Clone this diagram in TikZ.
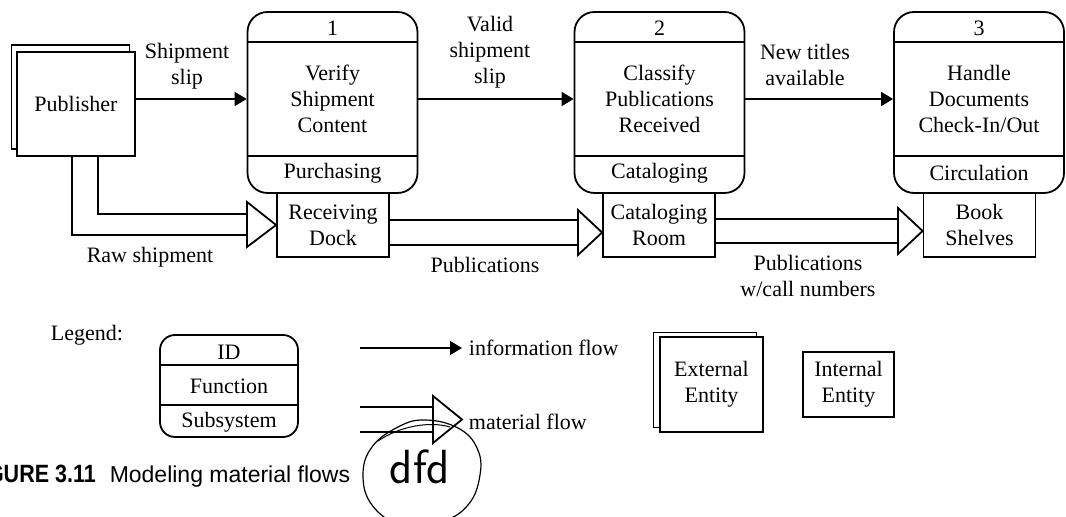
\documentclass[tikz,border=0pt]{standalone}
\usepackage{fontspec}
\setmainfont{Liberation Serif}
\newfontfamily\capfont[FakeStretch=0.86]{Liberation Sans}
\newfontfamily\capsans{Liberation Sans}
\usepackage{tikz}
\usetikzlibrary{arrows.meta}

\begin{document}
\begin{tikzpicture}[x = 0.5pt, y = -0.5pt, line width = 0.9pt,
  font = \fontsize{11}{13}\selectfont,
  proc/.style = {draw, rounded corners = 10pt, minimum width = 85pt, minimum height = 90.5pt, inner sep = 0},
  ient/.style = {draw, fill = white, minimum width = 56pt, minimum height = 32pt, align = center, inner sep = 0},
  eent/.style = {draw, fill = white, minimum width = 59pt, minimum height = 52pt, align = center, inner sep = 0},
  txt/.style = {align = center, inner sep = 2pt},
  info/.style = {-{Triangle[length = 6pt, width = 7pt]}},
  mtri/.style = {draw, fill = white, line join = miter}]
 \useasboundingbox (0, 0) rectangle (1066, 517);
 % processes
 \node[proc] (p1) at (332.5, 102.5) {};
 \node[proc] (p2) at (659.5, 102.5) {};
 \node[proc] (p3) at (979, 102.5) {};
 \foreach \p in {p1, p2, p3} {
   \draw (\p.west |- 0, 42) -- (\p.east |- 0, 42);
   \draw (\p.west |- 0, 156) -- (\p.east |- 0, 156);
 }
 \node[txt] (p1id) at (p1 |- 0, 28) {1};
 \node[txt] (p1fn) at (p1 |- 0, 99) {Verify\\Shipment\\Content};
 \node[txt] (p1ss) at (p1 |- 0, 173) {Purchasing};
 \node[txt] (p2id) at (p2 |- 0, 28) {2};
 \node[txt] (p2fn) at (p2 |- 0, 99) {Classify\\Publications\\Received};
 \node[txt] (p2ss) at (p2 |- 0, 173) {Cataloging};
 \node[txt] (p3id) at (p3 |- 0, 28) {3};
 \node[txt] (p3fn) at (p3 |- 0, 99) {Handle\\Documents\\Check-In/Out};
 \node[txt] (p3ss) at (p3 |- 0, 173) {Circulation};
 % entities
 \node[eent] (pubback) at (70.5, 97) {};
 \node[eent] (pub) at (76, 104) {Publisher};
 \node[ient] (dock) at (333, 225) {Receiving\\Dock};
 \node[ient] (room) at (659, 225) {Cataloging\\Room};
 \node[ient] (shelf) at (979.5, 225) {Book\\Shelves};
 % information flows
 \draw[info] (pub.east |- p1fn) -- (p1.west |- p1fn);
 \draw[info] (p1.east |- p1fn) -- (p2.west |- p2fn);
 \draw[info] (p2.east |- p2fn) -- (p3.west |- p3fn);
 \node[txt] (slip) at (187, 66.5) {Shipment\\slip};
 \node[txt] (vslip) at (490, 52) {Valid\\shipment\\slip};
 \node[txt] (titles) at (805, 65) {New titles\\available};
 % material flows
 \coordinate (m1a) at (247, 214);
 \coordinate (m1b) at (247, 235);
 \draw (pub.south -| 98, 0) |- (m1a);
 \draw (pub.south -| 72, 0) |- (m1b);
 \draw[mtri] (247, 202) -- (dock.west |- 0, 225) -- (247, 247) -- cycle;
 \coordinate (m2a) at (578, 220);
 \coordinate (m2b) at (578, 245);
 \draw (dock.east |- m2a) -- (m2a);
 \draw (dock.east |- m2b) -- (m2b);
 \draw[mtri] (578, 210) -- (room.west |- 0, 232.5) -- (578, 255) -- cycle;
 \coordinate (m3a) at (898, 219);
 \coordinate (m3b) at (898, 243);
 \draw (room.east |- m3a) -- (m3a);
 \draw (room.east |- m3b) -- (m3b);
 \draw[mtri] (898, 208) -- (shelf.west |- 0, 231) -- (898, 254) -- cycle;
 \node[txt] (raw) at (150, 257) {Raw shipment};
 \node[txt] (pubs) at (485, 265) {Publications};
 \node[txt] (pubsn) at (808, 276) {Publications\\w/call numbers};
 % legend
 \node[txt] (legend) at (87, 335) {Legend:};
 \node[proc, rounded corners = 7.5pt, minimum width = 69pt, minimum height = 51pt] (lproc) at (229, 386) {};
 \draw (lproc.west |- 0, 365) -- (lproc.east |- 0, 365);
 \draw (lproc.west |- 0, 405) -- (lproc.east |- 0, 405);
 \node[txt] (lid) at (lproc |- 0, 352) {ID};
 \node[txt] (lfn) at (lproc |- 0, 386) {Function};
 \node[txt] (lss) at (lproc |- 0, 422) {Subsystem};
 \coordinate (li) at (360, 348);
 \node[txt, anchor = west, inner sep = 3pt] (linfo) at (462, 348) {information flow};
 \draw[info] (li) -- (linfo.west);
 \coordinate (lma) at (360, 407);
 \coordinate (lmb) at (360, 432);
 \node[txt, anchor = west, inner sep = 3pt] (lmat) at (462, 422) {material flow};
 \draw (lma) -- (433, 407);
 \draw (lmb) -- (433, 432);
 \draw[mtri] (433, 396) -- (lmat.west |- 0, 419.5) -- (433, 443) -- cycle;
 \node[eent, minimum width = 51.5pt, minimum height = 47.5pt] (extback) at (705, 380) {};
 \node[eent, minimum width = 51.5pt, minimum height = 47.5pt] (ext) at (711.5, 384.5) {External\\Entity};
 \node[ient, minimum width = 45.5pt, minimum height = 32.5pt] (int) at (848.5, 384.5) {Internal\\Entity};
 % caption and scribble
 \node[anchor = base west, inner sep = 0, font = \capfont\fontsize{12.5}{14}\selectfont] (cap) at (-33, 483)
   {\textbf{FIGURE 3.11}\hspace{7pt}{\capsans\fontsize{11.5}{14}\selectfont Modeling material flows}};
 \draw[line width = 0.6pt] plot[smooth cycle, tension = 0.7] coordinates {(425, 420) (458, 428) (477, 448) (480, 475) (468, 505) (440, 522) (400, 524) (372, 505) (363, 475) (372, 447) (398, 427)};
 \draw[line width = 0.5pt] (378, 441) .. controls (400, 426) and (430, 421) .. (450, 427);
 \node[font = \sffamily\fontsize{24}{24}\selectfont] (dfd) at (420, 467) {dfd};
\end{tikzpicture}
\end{document}
